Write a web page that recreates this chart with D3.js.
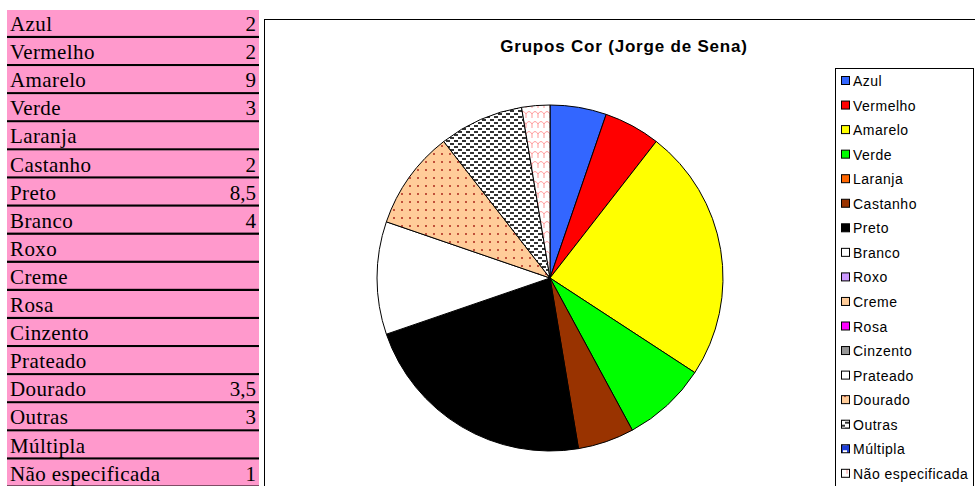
<!DOCTYPE html>
<html>
<head>
<meta charset="utf-8">
<script src="https://cdn.jsdelivr.net/npm/d3@7"></script>
<style>
  body { margin: 0; background: #fff; }
  svg { display: block; }
</style>
</head>
<body>
<svg id="chart" width="975" height="486"></svg>
<script>
var categories = ["Azul", "Vermelho", "Amarelo", "Verde", "Laranja", "Castanho", "Preto", "Branco",
  "Roxo", "Creme", "Rosa", "Cinzento", "Prateado", "Dourado", "Outras", "Múltipla", "Não especificada"];
var values = [2, 2, 9, 3, 0, 2, 8.5, 4, 0, 0, 0, 0, 0, 3.5, 3, 0, 1];
var fills = ["#3366ff", "#ff0000", "#ffff00", "#00ff00", "#ff6600", "#993300", "#000000", "#ffffff",
  "#cc99ff", "#ffcc99", "#ff00ff", "#969696", "#ffffff", "url(#pDourado)", "url(#pOutras)",
  "url(#pMultipla)", "url(#pNao)"];
var title = "Grupos Cor (Jorge de Sena)";

var svg = d3.select("#chart");
var defs = svg.append("defs");

// fill patterns for the last few groups
var p = defs.append("pattern").attr("id", "pDourado").attr("patternUnits", "userSpaceOnUse")
  .attr("width", 8).attr("height", 8);
p.append("rect").attr("width", 8).attr("height", 8).attr("fill", "#ffcc99");
p.append("rect").attr("x", 3).attr("y", 3).attr("width", 2).attr("height", 2).attr("fill", "#c0503a");

p = defs.append("pattern").attr("id", "pOutras").attr("patternUnits", "userSpaceOnUse")
  .attr("width", 8).attr("height", 6);
p.append("rect").attr("width", 8).attr("height", 6).attr("fill", "#ffffff");
p.append("rect").attr("x", 0).attr("y", 0).attr("width", 4).attr("height", 2).attr("fill", "#333");
p.append("rect").attr("x", 4).attr("y", 3).attr("width", 4).attr("height", 2).attr("fill", "#333");

p = defs.append("pattern").attr("id", "pMultipla").attr("patternUnits", "userSpaceOnUse")
  .attr("width", 8).attr("height", 8);
p.append("rect").attr("width", 8).attr("height", 8).attr("fill", "#1f3fd8");
p.append("rect").attr("x", 2).attr("y", 1).attr("width", 4).attr("height", 3).attr("fill", "#ffffff");

p = defs.append("pattern").attr("id", "pNao").attr("patternUnits", "userSpaceOnUse")
  .attr("width", 12).attr("height", 10);
p.append("rect").attr("width", 12).attr("height", 10).attr("fill", "#ffffff");
p.append("path").attr("d", "M0,6 Q3,1 6,6 Q9,1 12,6 M6,6 L6,10 M0,6 L0,10 M12,6 L12,10")
  .attr("fill", "none").attr("stroke", "#ff9a9a").attr("stroke-width", 1);

// spreadsheet column on the left
var rowH = 28.1, tableTop = 10;
var rowY = d3.scaleLinear().domain([0, 1]).range([tableTop, tableTop + rowH]);
var fmt = function(v) { return v ? String(v).replace(".", ",") : ""; };

var rows = svg.append("g").selectAll("g")
  .data(categories)
  .enter()
  .append("g")
    .attr("transform", function(d, i) { return "translate(0," + rowY(i) + ")"; });
rows.append("rect")
  .attr("x", 7).attr("width", 252).attr("height", rowH)
  .attr("fill", "#ff99cc");
rows.append("rect")
  .attr("x", 7).attr("y", rowH - 2.2).attr("width", 252).attr("height", 2.4)
  .attr("fill", "#000");
rows.append("text")
  .attr("x", 10).attr("y", 21)
  .style("font-family", "'Liberation Serif', 'Times New Roman', serif")
  .style("font-size", "21px")
  .style("letter-spacing", "0.4px")
  .text(function(d) { return d; });
rows.append("text")
  .attr("x", 256).attr("y", 21)
  .attr("text-anchor", "end")
  .style("font-family", "'Liberation Serif', 'Times New Roman', serif")
  .style("font-size", "21px")
  .text(function(d, i) { return fmt(values[i]); });

// chart area
svg.append("rect")
  .attr("x", 264.5).attr("y", 19.5).attr("width", 720).attr("height", 480)
  .attr("fill", "#fff").attr("stroke", "#000").attr("stroke-width", 1);

svg.append("text")
  .attr("x", 624).attr("y", 52)
  .attr("text-anchor", "middle")
  .style("font-family", "'Liberation Sans', Arial, sans-serif")
  .style("font-size", "17px")
  .style("font-weight", "bold")
  .style("letter-spacing", "0.8px")
  .text(title);

// pie, clockwise from 12 o'clock like Excel
var pie = d3.pie().sort(null).value(function(d) { return d; });
var arc = d3.arc().innerRadius(0).outerRadius(173);
var arcs = pie(values);

svg.append("g")
  .attr("transform", "translate(550,278)")
  .selectAll("path")
  .data(arcs.filter(function(a) { return a.data > 0; }))
  .enter()
  .append("path")
    .attr("d", arc)
    .attr("fill", function(a) { return fills[a.index]; })
    .attr("stroke", "#000")
    .attr("stroke-width", 1)
    .attr("stroke-linejoin", "round");

// legend
var legY = d3.scaleLinear().domain([0, 1]).range([81, 105.55]);
svg.append("rect")
  .attr("x", 835.5).attr("y", 68.5).attr("width", 138).attr("height", 430)
  .attr("fill", "#fff").attr("stroke", "#000").attr("stroke-width", 1);

var leg = svg.append("g").selectAll("g")
  .data(categories)
  .enter()
  .append("g")
    .attr("transform", function(d, i) { return "translate(841," + legY(i) + ")"; });
leg.append("rect")
  .attr("x", 0.5).attr("y", -4.5).attr("width", 8).attr("height", 8)
  .attr("fill", function(d, i) { return fills[i]; })
  .attr("stroke", "#000").attr("stroke-width", 1);
leg.append("text")
  .attr("x", 12).attr("y", 5)
  .style("font-family", "'Liberation Sans', Arial, sans-serif")
  .style("font-size", "14px")
  .style("letter-spacing", "0.5px")
  .text(function(d) { return d; });
</script>
</body>
</html>
